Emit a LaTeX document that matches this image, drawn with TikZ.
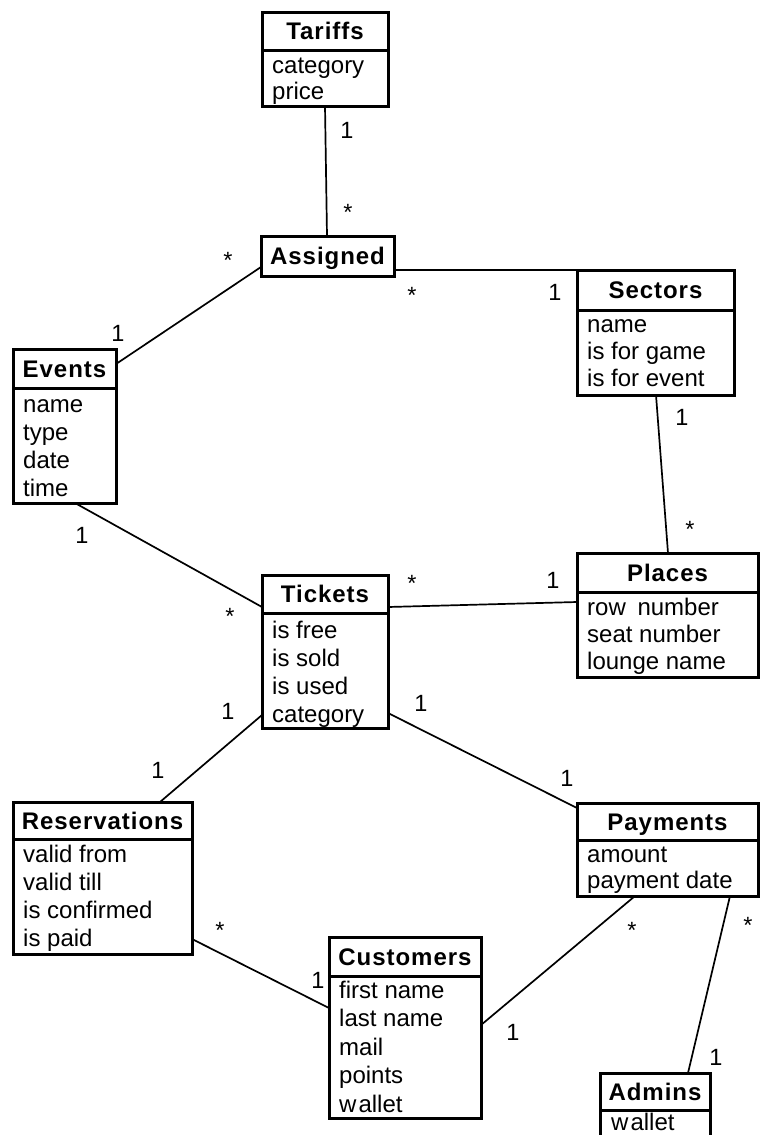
\documentclass[tikz,border=0pt]{standalone}
\usepackage{fontspec}
\setmainfont{Liberation Sans}
\newfontfamily\ttlfont[LetterSpace=4]{Liberation Sans}
\usetikzlibrary{calc}
\begin{document}
\begin{tikzpicture}[x=1pt,y=-1pt,
  hdr/.style={draw, line width=3pt, inner sep=0pt, outer sep=0pt, anchor=north west,
    font=\ttlfont\bfseries\fontsize{24}{28}\selectfont, text height=17pt, text depth=0pt},
  bdy/.style={draw, line width=3pt, inner sep=0pt, outer sep=0pt, anchor=north west},
  attr/.style={inner sep=0pt, anchor=base west, font=\fontsize{24}{28}\selectfont},
  mult/.style={inner sep=0pt, font=\fontsize{23.5}{27}\selectfont, text height=16.5pt, text depth=0pt},
  conn/.style={line width=1.7pt}]
\useasboundingbox (0,0) rectangle (760,1135);
\clip (0,0) rectangle (760,1135);
\fill[white] (0,0) rectangle (760,1135);

% Tariffs
\node[hdr, minimum width=126, minimum height=38] (tar) at (262,12) {Tariffs};
\node[bdy, minimum width=126, minimum height=56] (tarB) at (tar.south west) {};
\foreach \t [count=\i from 0] in {category,price}
  \node[attr] (tar-a\i) at ($(tarB.north west)+(10,{23+26*\i})$) {\t};

% Assigned
\node[hdr, minimum width=133, minimum height=40] (asg) at (261,236) {Assigned};

% Events
\node[hdr, minimum width=103, minimum height=39] (evt) at (13,349) {Events};
\node[bdy, minimum width=103, minimum height=115] (evtB) at (evt.south west) {};
\foreach \t [count=\i from 0] in {name,type,date,time}
  \node[attr] (evt-a\i) at ($(evtB.north west)+(10,{24+28*\i})$) {\t};

% Sectors
\node[hdr, minimum width=157, minimum height=40] (sec) at (577,270) {Sectors};
\node[bdy, minimum width=157, minimum height=85] (secB) at (sec.south west) {};
\foreach \t [count=\i from 0] in {name,is for game,is for event}
  \node[attr] (sec-a\i) at ($(secB.north west)+(10,{22+27*\i})$) {\t};

% Places
\node[hdr, minimum width=181, minimum height=39] (pla) at (577,553) {Places};
\node[bdy, minimum width=181, minimum height=85] (plaB) at (pla.south west) {};
\foreach \t [count=\i from 0] in {row\kern5pt\ number,seat number,lounge name}
  \node[attr] (pla-a\i) at ($(plaB.north west)+(10,{23+27*\i})$) {\t};

% Tickets
\node[hdr, minimum width=126, minimum height=38] (tic) at (262,575) {Tickets};
\node[bdy, minimum width=126, minimum height=115] (ticB) at (tic.south west) {};
\foreach \t [count=\i from 0] in {is free,is sold,is used,category}
  \node[attr] (tic-a\i) at ($(ticB.north west)+(10,{25+28*\i})$) {\t};

% Reservations
\node[hdr, minimum width=179, minimum height=37] (res) at (13,802) {Reservations};
\node[bdy, minimum width=179, minimum height=115] (resB) at (res.south west) {};
\foreach \t [count=\i from 0] in {valid from,valid till,is confirmed,is paid}
  \node[attr] (res-a\i) at ($(resB.north west)+(10,{23+28*\i})$) {\t};

% Payments
\node[hdr, minimum width=181, minimum height=37] (pay) at (577,803) {Payments};
\node[bdy, minimum width=181, minimum height=56] (payB) at (pay.south west) {};
\foreach \t [count=\i from 0] in {amount,payment date}
  \node[attr] (pay-a\i) at ($(payB.north west)+(10,{22+26*\i})$) {\t};

% Customers
\node[hdr, minimum width=152, minimum height=39] (cus) at (329,937) {Customers};
\node[bdy, minimum width=152, minimum height=142] (cusB) at (cus.south west) {};
\foreach \t [count=\i from 0] in {first name,last name,mail,points,w\kern2pt allet}
  \node[attr] (cus-a\i) at ($(cusB.north west)+(10,{22+28.5*\i})$) {\t};

% Admins
\node[hdr, minimum width=110, minimum height=37] (adm) at (600,1073) {Admins};
\node[bdy, minimum width=110, minimum height=60] (admB) at (adm.south west) {};
\node[attr] (adm-a0) at ($(admB.north west)+(11,20)$) {w\kern2pt allet};

% connectors
\draw[conn] ($(tarB.south west)+(63,0)$) -- ($(asg.north west)+(66,0)$);
\draw[conn] ($(asg.north west)+(0,31)$) -- ($(evt.north east)+(0,15)$);
\draw[conn] ($(asg.north east)+(0,34)$) -- (sec.north west);
\draw[conn] ($(secB.south west)+(79,0)$) -- ($(pla.north west)+(91,0)$);
\draw[conn] ($(evtB.south west)+(62,0)$) -- ($(tic.north west)+(0,32)$);
\draw[conn] ($(tic.north east)+(0,32)$) -- ($(plaB.north west)+(0,10)$);
\draw[conn] ($(ticB.south west)+(0,-13)$) -- ($(res.north west)+(147,0)$);
\draw[conn] ($(ticB.south east)+(0,-15)$) -- ($(pay.north west)+(0,5)$);
\draw[conn] ($(resB.south east)+(0,-15)$) -- ($(cusB.north west)+(0,32)$);
\draw[conn] ($(cusB.north east)+(0,49)$) -- ($(payB.south west)+(58,0)$);
\draw[conn] ($(payB.south west)+(153,0)$) -- ($(adm.north west)+(88,0)$);

% multiplicities
\node[mult] (m1) at (347,130) {1};
\node[mult] (m2) at (348,212) {*};
\node[mult] (m3) at (228,260) {*};
\node[mult] (m4) at (118,333) {1};
\node[mult] (m5) at (412,295) {*};
\node[mult] (m6) at (555,292) {1};
\node[mult] (m7) at (682,417) {1};
\node[mult] (m8) at (690,529) {*};
\node[mult] (m9) at (82,535) {1};
\node[mult] (m10) at (230,616) {*};
\node[mult] (m11) at (412,583) {*};
\node[mult] (m12) at (553,580) {1};
\node[mult] (m13) at (228,711) {1};
\node[mult] (m14) at (158,770) {1};
\node[mult] (m15) at (421,703) {1};
\node[mult] (m16) at (567,778) {1};
\node[mult] (m17) at (220,930) {*};
\node[mult] (m18) at (318,980) {1};
\node[mult] (m19) at (632,930) {*};
\node[mult] (m20) at (513,1032) {1};
\node[mult] (m21) at (748,925) {*};
\node[mult] (m22) at (716,1057) {1};
\end{tikzpicture}
\end{document}
